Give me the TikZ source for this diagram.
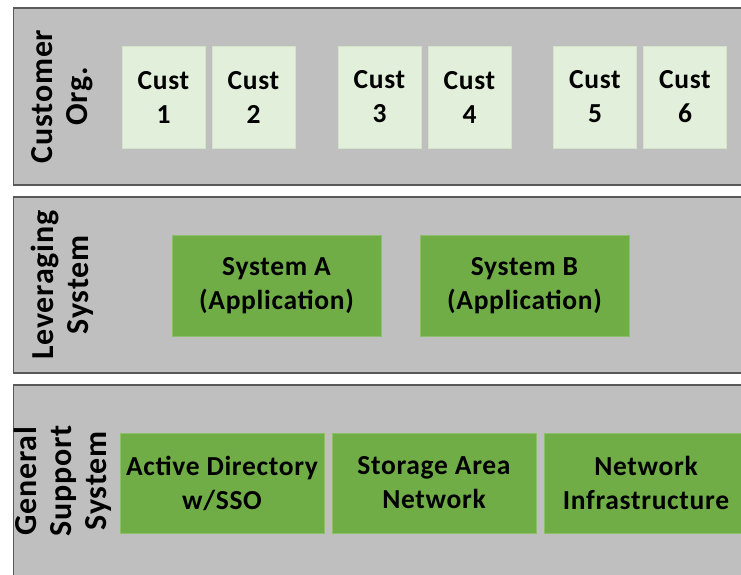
\documentclass[tikz,border=0pt]{standalone}
\usepackage{fontspec}
\setmainfont[LetterSpace=2.5]{Carlito}
\definecolor{panelgray}{HTML}{BFBFBF}
\definecolor{panelline}{HTML}{595959}
\definecolor{lightgreen}{HTML}{E2EFDA}
\definecolor{lightgreenline}{HTML}{D5E3CB}
\definecolor{midgreen}{HTML}{70AD47}
\definecolor{midgreenline}{HTML}{8CBF6A}
\begin{document}
\begin{tikzpicture}[x=1pt,y=-1pt,
  panel/.style={fill=panelgray,draw=panelline,line width=1.3pt},
  custbox/.style={fill=lightgreen,draw=lightgreenline,line width=0.8pt,minimum width=83pt,minimum height=102pt,inner sep=0pt,align=center,font=\fontsize{27.5}{34}\selectfont\bfseries},
  appbox/.style={fill=midgreen,draw=midgreenline,line width=0.8pt,minimum height=101pt,inner sep=0pt,align=center,font=\fontsize{27.5}{34}\selectfont\bfseries},
  rowlabel/.style={rotate=90,align=center,inner sep=0pt,font=\fontsize{32}{35}\selectfont\bfseries}
]
\useasboundingbox (0,0) rectangle (741,575);
\fill[white] (0,0) rectangle (741,575);
% panels
\draw[panel] (13.5,8) rectangle (760,185);
\draw[panel] (13.5,197) rectangle (760,373);
\draw[panel] (13.5,385) rectangle (760,590);
% labels
\node[rowlabel] (lcust) at (62,96.5) {Customer\\Org.};
\node[rowlabel] (llev) at (62,285) {Leveraging\\System};
\node[rowlabel] (lgss) at (63,481) {General\\Support\\System};
% customer boxes
\node[custbox] (c1) at (163.5,97) {Cust\\1};
\node[custbox] (c2) at (253.5,97) {Cust\\2};
\node[custbox] (c3) at (379.5,97) {Cust\\3};
\node[custbox] (c4) at (469.5,97) {Cust\\4};
\node[custbox] (c5) at (595,97) {Cust\\5};
\node[custbox] (c6) at (685,97) {Cust\\6};
% leveraging systems
\node[appbox,minimum width=209pt] (sa) at (276.5,285.5) {System A\\(Application)};
\node[appbox,minimum width=209pt] (sb) at (524.5,285.5) {System B\\(Application)};
% general support
\node[appbox,minimum width=204pt,minimum height=100pt] (ad) at (222,483) {Active Directory\\w/SSO};
\node[appbox,minimum width=204pt,minimum height=100pt] (san) at (434,483) {Storage Area\\Network};
\node[appbox,minimum width=204pt,minimum height=100pt] (ni) at (646,483) {Network\\Infrastructure};
\end{tikzpicture}
\end{document}
